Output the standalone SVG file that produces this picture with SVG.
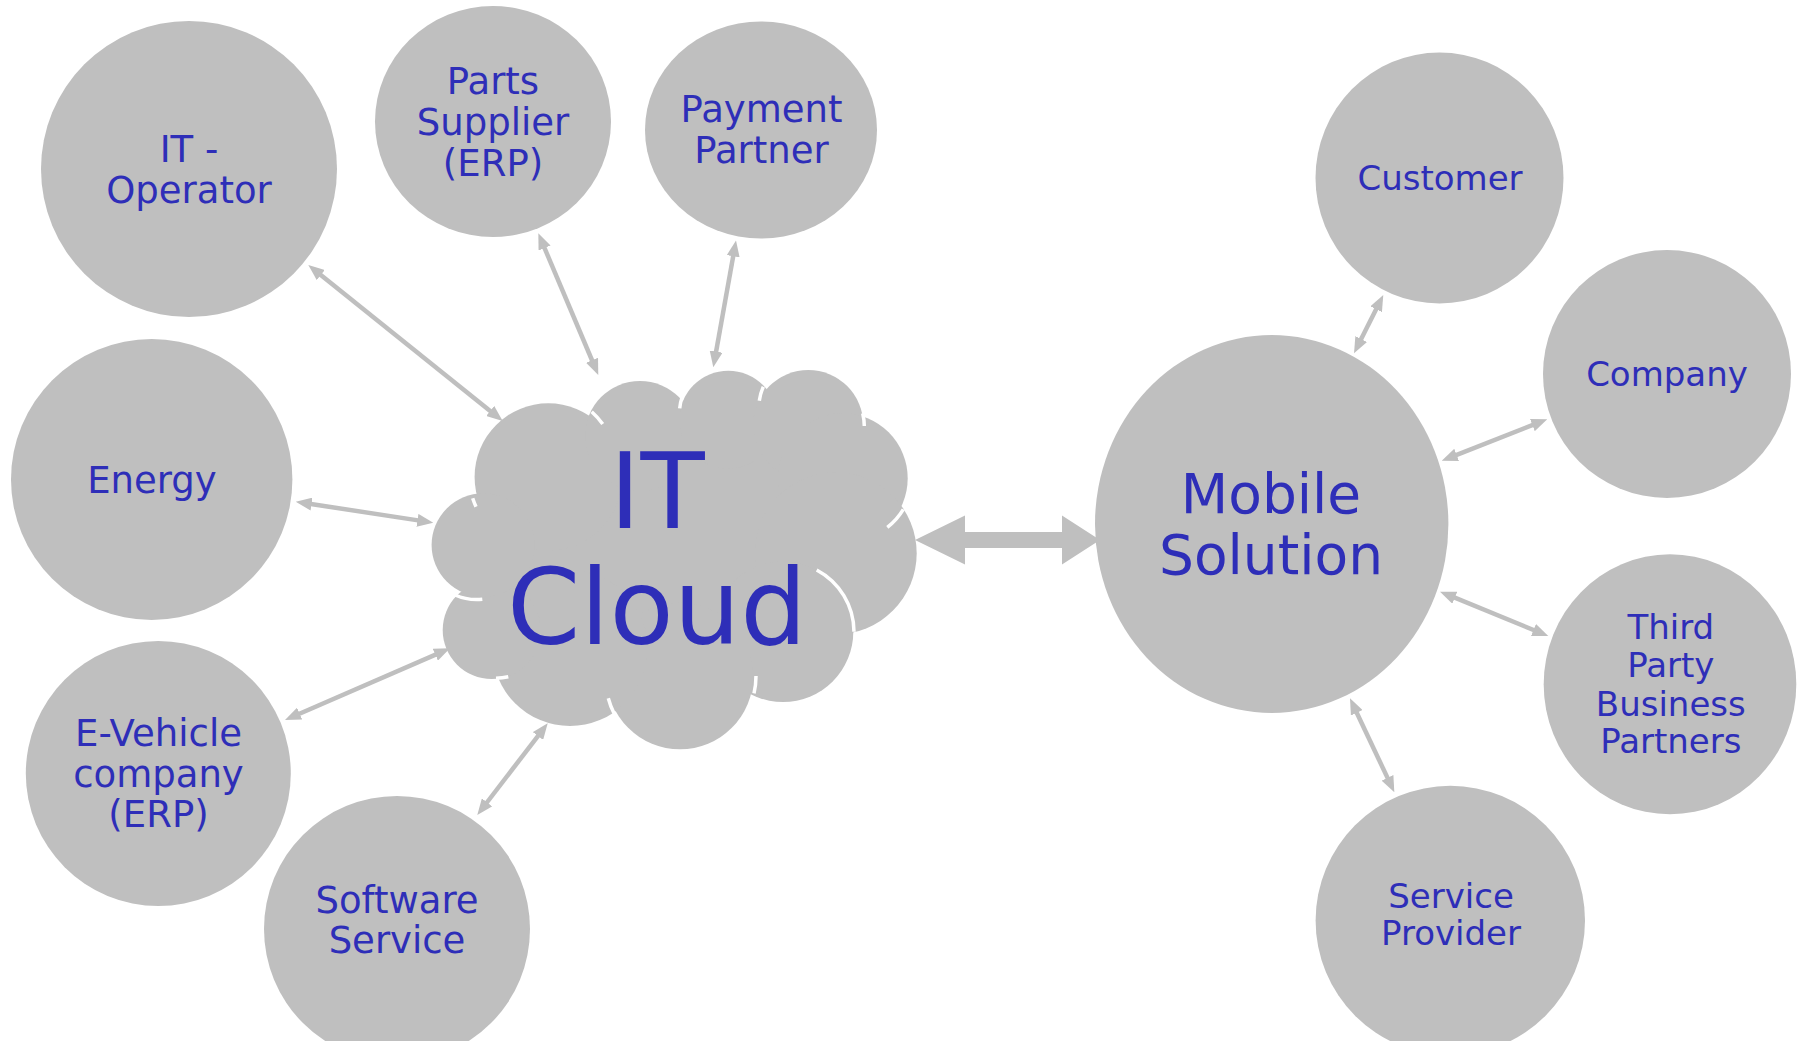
<svg xmlns="http://www.w3.org/2000/svg" width="1802" height="1041" viewBox="0 0 1802 1041">
<style>
.n{fill:#BFBFBF;}
.t{font-family:"DejaVu Sans","Verdana",sans-serif;fill:#2E2EB8;text-anchor:middle;}
.s37{font-size:37px;}
.s34{font-size:34px;}
.c{stroke:#BFBFBF;stroke-width:4.5;fill:none;marker-start:url(#ah);marker-end:url(#ah);}
.w{stroke:#FFFFFF;stroke-width:3.5;fill:none;}
</style>
<defs>
<marker id="ah" markerUnits="userSpaceOnUse" markerWidth="16" markerHeight="13" refX="4" refY="6.5" orient="auto-start-reverse" viewBox="0 0 16 13">
<path d="M0,0 L16,6.5 L0,13 Z" fill="#BFBFBF"/>
</marker>
</defs>
<rect width="1802" height="1041" fill="#FFFFFF"/>
<g id="connectors">
<line class="c" x1="317.7" y1="272.5" x2="493.3" y2="413.5"/>
<line class="c" x1="543" y1="244.4" x2="593.6" y2="364"/>
<line class="c" x1="733.9" y1="252.3" x2="715.4" y2="355.5"/>
<line class="c" x1="307.6" y1="503.5" x2="421.4" y2="520.9"/>
<line class="c" x1="296" y1="715.2" x2="439" y2="653.1"/>
<line class="c" x1="484.6" y1="805.5" x2="540.4" y2="732.8"/>
<line class="c" x1="1377.9" y1="305.7" x2="1359.4" y2="342.6"/>
<line class="c" x1="1536.1" y1="423.7" x2="1452.9" y2="456.3"/>
<line class="c" x1="1451.1" y1="596.2" x2="1537.2" y2="631.5"/>
<line class="c" x1="1355.1" y1="709.2" x2="1389.2" y2="781.4"/>
<polygon fill="#BFBFBF" points="915,540 965,515.5 965,532 1062,532 1062,515.5 1100,540 1062,564.5 1062,548 965,548 965,564.5"/>
</g>
<g id="it-cloud">
<g class="n">
<polygon points="548.3,477 640,436 728.3,419.7 808.3,425 842.7,478.3 835.7,553.3 783,631.7 680,676 570,648.3 491.7,630 483.3,545"/>
<circle cx="548.3" cy="477" r="73.7"/>
<circle cx="640" cy="436" r="55"/>
<circle cx="728.3" cy="419.7" r="49"/>
<circle cx="808.3" cy="425" r="55"/>
<circle cx="842.7" cy="478.3" r="65"/>
<circle cx="835.7" cy="553.3" r="81"/>
<circle cx="783" cy="631.7" r="70.3"/>
<circle cx="680" cy="676" r="73.3"/>
<circle cx="570" cy="648.3" r="77.7"/>
<circle cx="491.7" cy="630" r="49"/>
<circle cx="483.3" cy="545" r="51.7"/>
</g>
<path class="w" d="M591.7,411.7 A76,76 0 0 1 602.7,424"/>
<path class="w" d="M682.3,396.7 A49,49 0 0 0 679.7,408.3"/>
<path class="w" d="M763.3,386.7 A55,55 0 0 0 759.3,400.7"/>
<path class="w" d="M862.7,413.3 A55,55 0 0 1 864.3,426"/>
<path class="w" d="M903.3,509.3 A65,65 0 0 1 887.3,527.3"/>
<path class="w" d="M816.7,570 A70.3,70.3 0 0 1 854,631.7"/>
<path class="w" d="M756,676 A76,76 0 0 1 754,693.3"/>
<path class="w" d="M608.3,698.3 A76,76 0 0 0 614,713.3"/>
<path class="w" d="M496,678.3 A77.7,77.7 0 0 0 508.3,676.7"/>
<path class="w" d="M455,595 A54,54 0 0 0 482.3,599.3"/>
<path class="w" d="M472.7,498.3 A77,77 0 0 0 476,506.7"/>
<text class="t" x="657" y="527.7" font-size="105">IT</text>
<text class="t" x="657" y="644.3" font-size="105">Cloud</text>
</g>
<g id="it-operator">
<circle class="n" cx="189" cy="169" r="148"/>
<text class="t s37" x="189" y="161.7">IT -</text>
<text class="t s37" x="189" y="202.7">Operator</text>
</g>
<g id="parts-supplier">
<ellipse class="n" cx="493" cy="121.5" rx="118" ry="115.5"/>
<text class="t s37" x="493" y="94">Parts</text>
<text class="t s37" x="493" y="135">Supplier</text>
<text class="t s37" x="493" y="176">(ERP)</text>
</g>
<g id="payment-partner">
<ellipse class="n" cx="761" cy="130" rx="116" ry="108.5"/>
<text class="t s37" x="761.5" y="121.7">Payment</text>
<text class="t s37" x="761.5" y="163.3">Partner</text>
</g>
<g id="energy">
<ellipse class="n" cx="151.7" cy="479.5" rx="140.7" ry="140.5"/>
<text class="t s37" x="152" y="492.7">Energy</text>
</g>
<g id="e-vehicle">
<circle class="n" cx="158.3" cy="773.5" r="132.5"/>
<text class="t s37" x="158.5" y="746">E-Vehicle</text>
<text class="t s37" x="158.5" y="786.7">company</text>
<text class="t s37" x="158.5" y="826.7">(ERP)</text>
</g>
<g id="software-service">
<circle class="n" cx="397" cy="929" r="133"/>
<text class="t s37" x="397" y="912.7">Software</text>
<text class="t s37" x="397" y="953.3">Service</text>
</g>
<g id="mobile-solution">
<ellipse class="n" cx="1271.7" cy="524" rx="176.7" ry="189"/>
<text class="t" x="1271" y="513.3" font-size="55">Mobile</text>
<text class="t" x="1271" y="574" font-size="55">Solution</text>
</g>
<g id="customer">
<ellipse class="n" cx="1439.5" cy="178" rx="124" ry="125.5"/>
<text class="t s34" x="1440" y="190">Customer</text>
</g>
<g id="company">
<circle class="n" cx="1667" cy="374" r="124"/>
<text class="t s34" x="1667" y="386">Company</text>
</g>
<g id="third-party">
<ellipse class="n" cx="1670" cy="684.3" rx="126.3" ry="130"/>
<text class="t s34" x="1670.8" y="639.3">Third</text>
<text class="t s34" x="1670.8" y="676.7">Party</text>
<text class="t s34" x="1670.8" y="715.7">Business</text>
<text class="t s34" x="1670.8" y="752.7">Partners</text>
</g>
<g id="service-provider">
<circle class="n" cx="1450.3" cy="920.5" r="134.7"/>
<text class="t s34" x="1451" y="908.3">Service</text>
<text class="t s34" x="1451" y="945">Provider</text>
</g>
</svg>
